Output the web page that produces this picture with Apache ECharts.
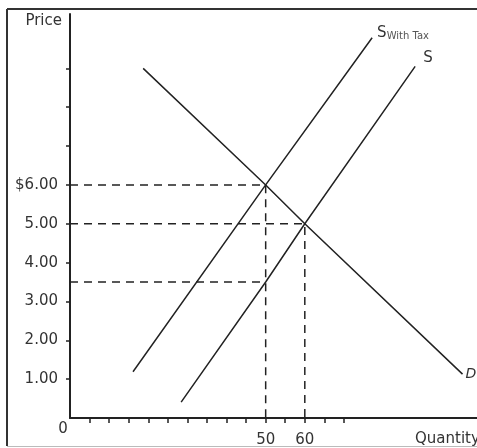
<!DOCTYPE html>
<html>
<head>
<meta charset="utf-8">
<script src="https://cdn.jsdelivr.net/npm/echarts@6/dist/echarts.min.js"></script>
<style>
html,body{margin:0;padding:0;background:#fff;overflow:hidden;}
#c{width:477px;height:448px;}
</style>
</head>
<body>
<div id="c"></div>
<script>
// ---- data ----
const priceTicks = [1, 2, 3, 4, 5, 6, 7, 8, 9];
const priceLabels = [1, 2, 3, 4, 5, 6];
const qtyTicks = [5, 10, 15, 20, 25, 30, 35, 40, 45, 50, 55, 60, 65, 70];
const qtyLabels = [0, 50, 60];
const demand = [[18.7, 9.0], [50, 6], [60, 5], [100.3, 1.13]];
const supply = [[28.4, 0.41], [50, 3.5], [60, 5], [88.2, 9.05]];
const supplyTax = [[16.1, 1.19], [50, 6], [77.2, 9.79]];
const guide6 = [[0, 6], [50, 6], [50, 0]];
const guide5 = [[0, 5], [60, 5], [60, 0]];
const guide35 = [[0, 3.5], [50, 3.5]];

const ink = '#222';
const txt = '#333';
const font = 'DejaVu Sans';

const chart = echarts.init(document.getElementById('c'));

function curve(name, data, endLabel) {
  return {
    name: name, type: 'line', data: data, symbol: 'none', silent: true,
    lineStyle: { color: ink, width: 1.5 },
    endLabel: endLabel, animation: false, z: 3
  };
}
function guide(data) {
  return {
    type: 'line', data: data, symbol: 'none', silent: true,
    lineStyle: { color: ink, width: 1.5, type: [8, 6] },
    animation: false, z: 2
  };
}

chart.setOption({
  animation: false,
  grid: { left: 70, right: 0, top: 14, bottom: 30, containLabel: false, outerBoundsMode: 'none' },
  xAxis: {
    type: 'value', min: 0, max: 104,
    splitLine: { show: false },
    axisLine: { lineStyle: { color: ink, width: 2 } },
    axisTick: { customValues: qtyTicks, length: 5, lineStyle: { color: ink, width: 1.5 } },
    axisLabel: {
      customValues: qtyLabels, margin: 4,
      color: txt, fontFamily: font, fontSize: 15,
      formatter: function (v) { return v === 0 ? '{z|0}' : '{n|' + v + '}'; },
      rich: {
        z: { fontFamily: font, fontSize: 15, color: txt, padding: [0, 14, 0, 0] },
        n: { fontFamily: font, fontSize: 15, color: txt, padding: [11, 0, 0, 0] }
      }
    },
    name: 'Quantity', nameLocation: 'end', nameGap: -62,
    nameTextStyle: { color: txt, fontFamily: font, fontSize: 15, align: 'left', verticalAlign: 'top', padding: [14, 0, 0, 0] }
  },
  yAxis: {
    type: 'value', min: 0, max: 10.4,
    splitLine: { show: false },
    axisLine: { lineStyle: { color: ink, width: 2 } },
    axisTick: { customValues: priceTicks, length: 4, lineStyle: { color: ink, width: 1.5 } },
    axisLabel: {
      customValues: priceLabels, margin: 12,
      color: txt, fontFamily: font, fontSize: 15,
      formatter: function (v) { return v === 6 ? '$6.00' : v.toFixed(2); }
    },
    name: 'Price', nameLocation: 'end', nameGap: 0,
    nameTextStyle: { color: txt, fontFamily: font, fontSize: 15, align: 'right', verticalAlign: 'top', padding: [0, 8, 0, 0] }
  },
  graphic: [
    { type: 'line', shape: { x1: 7, y1: 9, x2: 7, y2: 446 }, style: { stroke: '#333', lineWidth: 2 }, silent: true },
    { type: 'line', shape: { x1: 7, y1: 9, x2: 477, y2: 9 }, style: { stroke: '#333', lineWidth: 2 }, silent: true },
    { type: 'line', shape: { x1: 7, y1: 446.5, x2: 477, y2: 446.5 }, style: { stroke: '#bbb', lineWidth: 1 }, silent: true }
  ],
  series: [
    guide(guide6), guide(guide5), guide(guide35),
    curve('D', demand, { show: true, formatter: 'D', distance: 3, color: txt, fontFamily: font, fontSize: 14, fontStyle: 'italic' }),
    curve('S', supply, { show: true, formatter: 'S', distance: 5, offset: [3, -8], color: txt, fontFamily: font, fontSize: 15 }),
    curve('S With Tax', supplyTax, {
      show: true, distance: 5, offset: [0, -5],
      formatter: '{s|S}{t|With Tax}',
      rich: {
        s: { fontFamily: font, fontSize: 15, color: txt },
        t: { fontFamily: font, fontSize: 10, color: '#555', padding: [8, 0, 0, 0] }
      }
    })
  ]
});
</script>
</body>
</html>
